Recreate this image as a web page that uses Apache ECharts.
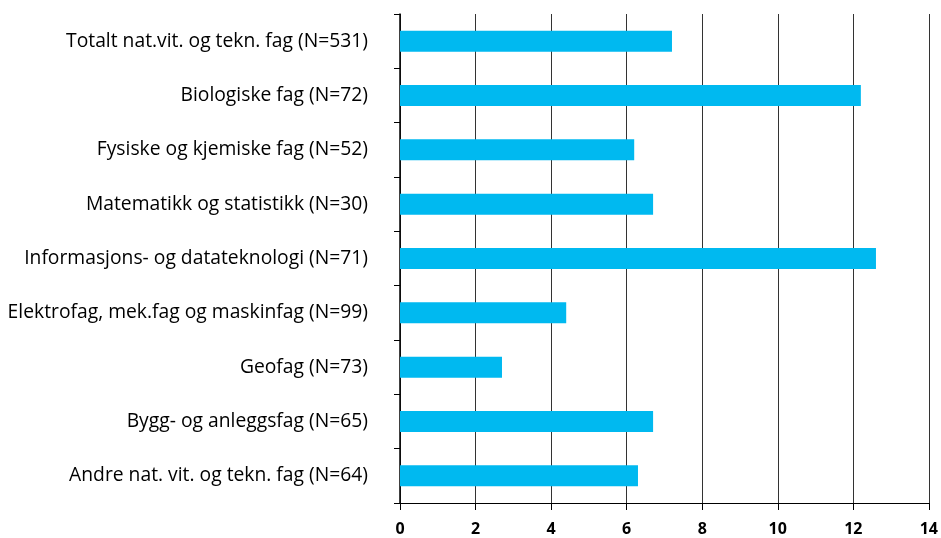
<!DOCTYPE html>
<html><head><meta charset="utf-8">
<script src="https://cdn.jsdelivr.net/npm/echarts@6/dist/echarts.min.js"></script>
<style>html,body{margin:0;padding:0;background:#fff}#c{width:941px;height:538px}</style>
</head><body><div id="c"></div>
<script>
const categories = [
  "Totalt nat.vit. og tekn. fag (N=531)",
  "Biologiske fag (N=72)",
  "Fysiske og kjemiske fag (N=52)",
  "Matematikk og statistikk (N=30)",
  "Informasjons- og datateknologi (N=71)",
  "Elektrofag, mek.fag og maskinfag (N=99)",
  "Geofag (N=73)",
  "Bygg- og anleggsfag (N=65)",
  "Andre nat. vit. og tekn. fag (N=64)"
];
const values = [7.2, 12.2, 6.2, 6.7, 12.6, 4.4, 2.7, 6.7, 6.3];
const xTicks = [0, 2, 4, 6, 8, 10, 12, 14];

const chart = echarts.init(document.getElementById('c'));
chart.setOption({
  animation: false,
  grid: { left: 400, right: 12, top: 14, bottom: 35, containLabel: false },
  xAxis: {
    type: 'value', min: xTicks[0], max: xTicks[xTicks.length-1], interval: 2,
    axisLine: { show: true, lineStyle: { color: '#000', width: 1.2 } },
    axisTick: { show: true, length: 7, lineStyle: { color: '#000' } },
    splitLine: { show: true, lineStyle: { color: '#333', width: 1 } },
    axisLabel: { color: '#000', fontFamily: 'Open Sans', fontWeight: 'bold', fontSize: 16, margin: 18 }
  },
  yAxis: {
    type: 'category', data: categories, inverse: true,
    axisLine: { show: true, lineStyle: { color: '#000', width: 1.5 } },
    axisTick: { show: true, length: 6, lineStyle: { color: '#000' } },
    axisLabel: { color: '#000', fontFamily: 'Open Sans', fontSize: 19.3, margin: 32 }
  },
  series: [{
    type: 'bar', data: values, barWidth: 21,
    itemStyle: { color: '#00b9f0' }
  }]
});
</script></body></html>
